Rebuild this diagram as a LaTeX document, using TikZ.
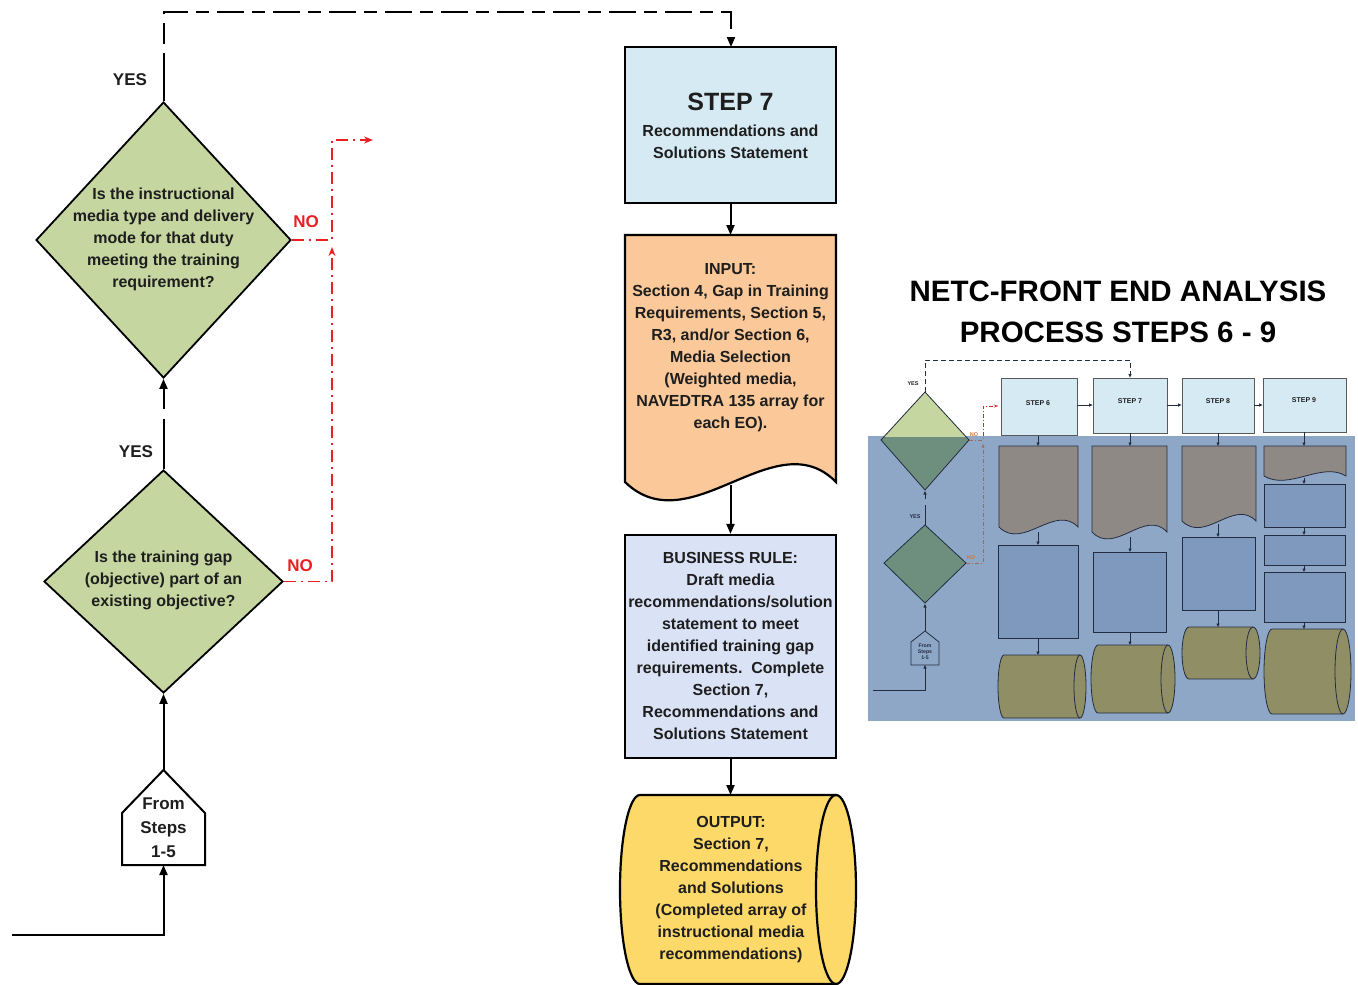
\documentclass[tikz,border=0pt]{standalone}
\usepackage{fontspec}
\setmainfont{Liberation Sans}
\usetikzlibrary{arrows.meta,shapes.geometric}

\definecolor{txtcol}{RGB}{30,30,30}
\definecolor{stepblue}{RGB}{214,234,243}
\definecolor{peach}{RGB}{250,200,153}
\definecolor{lavender}{RGB}{218,226,245}
\definecolor{gold}{RGB}{253,217,105}
\definecolor{sage}{RGB}{197,214,160}
\definecolor{nored}{RGB}{232,32,36}
\definecolor{veil}{RGB}{143,167,199}
\definecolor{veilsage}{RGB}{110,142,126}
\definecolor{veilgray}{RGB}{143,137,133}
\definecolor{veilblue}{RGB}{127,152,190}
\definecolor{veilolive}{RGB}{143,142,100}
\definecolor{navy}{RGB}{35,45,65}
\definecolor{mutedred}{RGB}{160,105,95}
\definecolor{noorange}{RGB}{205,120,55}

\newcommand\fsz[2]{\fontsize{#1}{#2}\selectfont\bfseries}

% drum shape (stored data): left/right corner x, top/bottom y, end-ellipse x radius, style
\newcommand\drum[6]{%
  \pgfmathsetmacro\drumMid{(#3+#4)/2}%
  \pgfmathsetmacro\drumK{0.552*(#4-#3)/2}%
  \pgfmathsetmacro\drumR{0.552*#5}%
  \path[#6] (#1,#3) -- (#2,#3)
    .. controls ({#2+\drumR},#3) and ({#2+#5},{\drumMid-\drumK}) .. ({#2+#5},\drumMid)
    .. controls ({#2+#5},{\drumMid+\drumK}) and ({#2+\drumR},#4) .. (#2,#4)
    -- (#1,#4)
    .. controls ({#1-\drumR},#4) and ({#1-#5},{\drumMid+\drumK}) .. ({#1-#5},\drumMid)
    .. controls ({#1-#5},{\drumMid-\drumK}) and ({#1-\drumR},#3) .. (#1,#3) -- cycle;
  \path[#6,fill=none] (#2,#3)
    .. controls ({#2-\drumR},#3) and ({#2-#5},{\drumMid-\drumK}) .. ({#2-#5},\drumMid)
    .. controls ({#2-#5},{\drumMid+\drumK}) and ({#2-\drumR},#4) .. (#2,#4);
}

\tikzset{
  txt/.style={font=\fsz{16}{22}, align=center, inner sep=0pt, text=txtcol},
  lbl/.style={font=\fsz{17}{20}, inner sep=0pt, text=txtcol},
  nolbl/.style={font=\fsz{17}{20}, inner sep=0pt, text=nored},
  decision/.style={shape=diamond, draw=black, line width=1.8pt, fill=sage, inner sep=0pt},
  stepbox/.style={shape=rectangle, draw=black, line width=2.2pt, fill=stepblue, inner sep=0pt},
  rulebox/.style={shape=rectangle, draw=black, line width=2.2pt, fill=lavender, inner sep=0pt},
  arr/.style={draw=black, line width=2pt, -{Triangle[length=10pt,width=8pt]}},
  blkdash/.style={arr, dash pattern=on 48pt off 9pt on 21pt off 9pt
     on 27pt off 8pt on 13pt off 8pt on 27pt off 8pt on 13pt off 8pt
     on 27pt off 8pt on 13pt off 8pt on 27pt off 8pt on 13pt off 8pt
     on 27pt off 8pt on 13pt off 8pt on 27pt off 8pt on 13pt off 8pt
     on 27pt off 8pt on 13pt off 8pt on 27pt off 8pt on 13pt off 8pt
     on 27pt off 8pt on 13pt off 8pt on 27pt off 8pt on 13pt off 8pt
     on 27pt off 8pt on 13pt off 8pt on 27pt off 8pt on 13pt off 8pt},
  reddash/.style={draw=nored, line width=1.6pt, dash pattern=on 12pt off 5pt on 2pt off 5pt,
                  -{Stealth[length=9pt,width=7pt]}},
  % inset overview
  mline/.style={draw=navy, line width=0.8pt},
  marr/.style={mline, -{Triangle[length=3.5pt,width=3pt]}},
  mtxt/.style={font=\fsz{7}{8}, inner sep=0pt, text=txtcol},
  mtiny/.style={font=\fsz{5.2}{6.2}, inner sep=0pt, align=center, text=navy},
  mstep/.style={shape=rectangle, draw=gray!70!black, line width=0.8pt, fill=stepblue, inner sep=0pt},
  mbox/.style={draw=navy, line width=0.8pt, fill=veilblue},
  mdoc/.style={draw=navy, line width=0.8pt, fill=veilgray},
  mcyl/.style={draw=navy, line width=0.8pt, fill=veilolive},
}

\begin{document}
\begin{tikzpicture}[x=1pt,y=-1pt]
\useasboundingbox (0,0) rectangle (1358,985);

% ---------------- left column: decisions ----------------
\node[decision, minimum width=255pt, minimum height=276pt] (d1) at (163.5,240) {};
\node[txt] (d1t) at (163.5,239) {Is the instructional\\media type and delivery\\mode for that duty\\meeting the training\\requirement?};

\node[decision, minimum width=239pt, minimum height=223pt] (d2) at (163.5,581.5) {};
\node[txt] (d2t) at (163.5,580.5) {Is the training gap\\(objective) part of an\\existing objective?};

% off-page entry
\coordinate (fsTop) at (163.5,770);
\coordinate (fsBot) at (163.5,865);
\path[draw=black, line width=2pt, fill=white]
  (fsTop) -- (205,813) -- (205,865) -- (122,865) -- (122,813) -- cycle;
\node[font=\fsz{17}{24}, align=center, inner sep=0pt, text=txtcol] (fst) at (163.5,828) {From\\Steps\\1-5};

\coordinate (feedIn) at (12,935);
\draw[arr] (feedIn) -- (163.5,935) -- (fsBot);
\draw[arr] (fsTop) -- (d2.south);
\draw[arr, dash pattern=on 50pt off 10pt on 60pt] (d2.north) -- (d1.south);

\node[lbl] (yes2) at (136,452) {YES};
\node[lbl] (yes1) at (130,80) {YES};

% YES branch to step 7
\coordinate (topL) at (163.5,12);
\draw[blkdash] (d1.north) -- (topL) -| (731,47);

% NO branches
\coordinate (noUp) at (332,247);
\coordinate (noCorner) at (332,140);
\coordinate (noOut) at (373,140);
\draw[reddash] (d2.east) -| (noUp);
\draw[reddash] (d1.east) -| (noCorner) -- (noOut);
\node[nolbl] (no1) at (306,222) {NO};
\node[nolbl] (no2) at (300,566) {NO};

% ---------------- centre column: step 7 ----------------
\node[stepbox, minimum width=211pt, minimum height=156pt] (s7) at (730.5,125) {};
\node[font=\fsz{25}{30}, inner sep=0pt, text=txtcol] (s7t) at (730.5,102) {STEP 7};
\node[txt] (s7s) at (730.5,142) {Recommendations and\\Solutions Statement};

% input document
\coordinate (docTop) at (730.5,235);
\coordinate (docWave) at (730.5,485);
\path[draw=black, line width=2.2pt, fill=peach]
  (625,235) -- (836,235) -- (836,482)
  .. controls (775,420) and (690,545) .. (625,482) -- cycle;
\node[txt] (inp) at (730.5,347.5) {INPUT:\\Section 4, Gap in Training\\Requirements, Section 5,\\R3, and/or Section 6,\\Media Selection\\(Weighted media,\\NAVEDTRA 135 array for\\each EO).};

% business rule
\node[rulebox, minimum width=211pt, minimum height=223pt] (br) at (730.5,646.5) {};
\node[txt] (brt) at (730.5,646) {BUSINESS RULE:\\Draft media\\recommendations/solution\\statement to meet\\identified training gap\\requirements.\ \ Complete\\Section 7,\\Recommendations and\\Solutions Statement};

% output store
\coordinate (outTop) at (730.5,795);
\drum{640}{836}{795}{984}{20}{draw=black, line width=2.2pt, fill=gold}
\node[txt] (outt) at (731,889.5) {OUTPUT:\\Section 7,\\Recommendations\\and Solutions\\(Completed array of\\instructional media\\recommendations)};

\draw[arr] (s7.south) -- (docTop);
\draw[arr] (docWave) -- (br.north);
\draw[arr] (br.south) -- (outTop);

% ---------------- title ----------------
\node[font=\fsz{29.5}{41}, align=center, inner sep=0pt, text=black] (title) at (1118,312)
  {NETC-FRONT END ANALYSIS\\PROCESS STEPS 6 - 9};

% ---------------- overview of steps 6 - 9 ----------------
\fill[veil] (868,436) rectangle (1355,721);

% decisions
\path[fill=veilsage] (925,392) -- (969,440) -- (925,490) -- (881,440) -- cycle;
\begin{scope}
  \clip (868,380) rectangle (980,436);
  \path[fill=sage] (925,392) -- (969,440) -- (925,490) -- (881,440) -- cycle;
\end{scope}
\path[mline] (925,392) -- (969,440) -- (925,490) -- (881,440) -- cycle;
\path[mline, fill=veilsage] (925,525) -- (966,563) -- (925,603) -- (884,563) -- cycle;
\path[mline, fill=veil] (925,631) -- (939,642) -- (939,665) -- (911,665) -- (911,642) -- cycle;
\node[mtiny] (mfs) at (925,652) {From\\Steps\\1-5};

\draw[marr] (873,690) -- (925,690) -- (925,665);
\draw[marr] (925,631) -- (925,604);
\draw[marr, dash pattern=on 20pt off 6pt on 20pt] (925,525) -- (925,491);
\node[font=\fsz{5.5}{6}, inner sep=0pt, text=navy] (myes2) at (915,517) {YES};
\node[font=\fsz{5.5}{6}, inner sep=0pt, text=txtcol] (myes1) at (913,384) {YES};
\node[font=\fsz{5.5}{6}, inner sep=0pt, text=noorange] (mno1) at (974,435) {NO};
\node[font=\fsz{5.5}{6}, inner sep=0pt, text=noorange] (mno2) at (971,558) {NO};

% step boxes
\node[mstep, minimum width=76pt, minimum height=57pt] (m6) at (1039,406.5) {};
\node[mstep, minimum width=74pt, minimum height=55pt] (m7) at (1130,405.5) {};
\node[mstep, minimum width=72pt, minimum height=55pt] (m8) at (1218,405.5) {};
\node[mstep, minimum width=83pt, minimum height=54pt] (m9) at (1304.5,405) {};
\node[mtxt] at (1038,403) {STEP 6};
\node[mtxt] at (1130,401) {STEP 7};
\node[mtxt] at (1218,401) {STEP 8};
\node[mtxt] at (1304,400) {STEP 9};
\draw[marr] (m6.east |- 0,405) -- (m7.west |- 0,405);
\draw[marr] (m7.east |- 0,405) -- (m8.west |- 0,405);
\draw[marr] (m8.east |- 0,405) -- (m9.west |- 0,405);

% YES link and NO links of the overview
\draw[mline, dash pattern=on 5pt off 3pt, -{Triangle[length=3.5pt,width=3pt]}]
  (925,392) -- (925,360) -| (m7.north);
\draw[draw=nored, line width=0.8pt, dash pattern=on 4pt off 2pt on 1pt off 2pt,
      -{Stealth[length=4pt,width=3pt]}] (983,436) -- (983,406) -- (998,406);
\draw[draw=mutedred, line width=0.8pt, dash pattern=on 4pt off 2pt on 1pt off 2pt]
  (969,440) -- (983,440) -- (983,436);
\draw[draw=mutedred, line width=0.8pt, dash pattern=on 4pt off 2pt on 1pt off 2pt,
      -{Stealth[length=4pt,width=3pt]}] (966,563) -- (983,563) -- (983,444);

% documents
\path[mdoc] (999,446) -- (1078,446) -- (1078,527) .. controls (1055,503) and (1023,551) .. (999,527) -- cycle;
\path[mdoc] (1092,446) -- (1167,446) -- (1167,532) .. controls (1145,508) and (1115,556) .. (1092,532) -- cycle;
\path[mdoc] (1182,446) -- (1256,446) -- (1256,521) .. controls (1234,498) and (1205,544) .. (1182,521) -- cycle;
\path[mdoc] (1264,446) -- (1346,446) -- (1346,476) .. controls (1322,461) and (1289,491) .. (1264,476) -- cycle;

% rule boxes
\path[mbox] (998,545) rectangle (1078,638);
\path[mbox] (1093,552) rectangle (1166,632);
\path[mbox] (1182,537) rectangle (1255,610);
\path[mbox] (1264,484) rectangle (1345,527);
\path[mbox] (1264,535) rectangle (1345,565);
\path[mbox] (1264,572) rectangle (1345,622);

% stores
\drum{1004}{1080}{655}{718}{6}{mcyl}
\drum{1098}{1168}{645}{713}{7}{mcyl}
\drum{1189}{1253}{627}{679}{7}{mcyl}
\drum{1272}{1343}{629}{714}{8}{mcyl}

% vertical links
\draw[marr] (1038,436) -- (1038,446);
\draw[marr] (1038,532) -- (1038,545);
\draw[marr] (1038,638) -- (1038,655);
\draw[marr] (1130,433) -- (1130,446);
\draw[marr] (1130,537) -- (1130,552);
\draw[marr] (1130,632) -- (1130,645);
\draw[marr] (1218,433) -- (1218,446);
\draw[marr] (1218,524) -- (1218,537);
\draw[marr] (1218,610) -- (1218,627);
\draw[marr] (1304,432) -- (1304,446);
\draw[marr] (1304,478) -- (1304,484);
\draw[marr] (1304,527) -- (1304,535);
\draw[marr] (1304,565) -- (1304,572);
\draw[marr] (1304,622) -- (1304,629);
\end{tikzpicture}
\end{document}
